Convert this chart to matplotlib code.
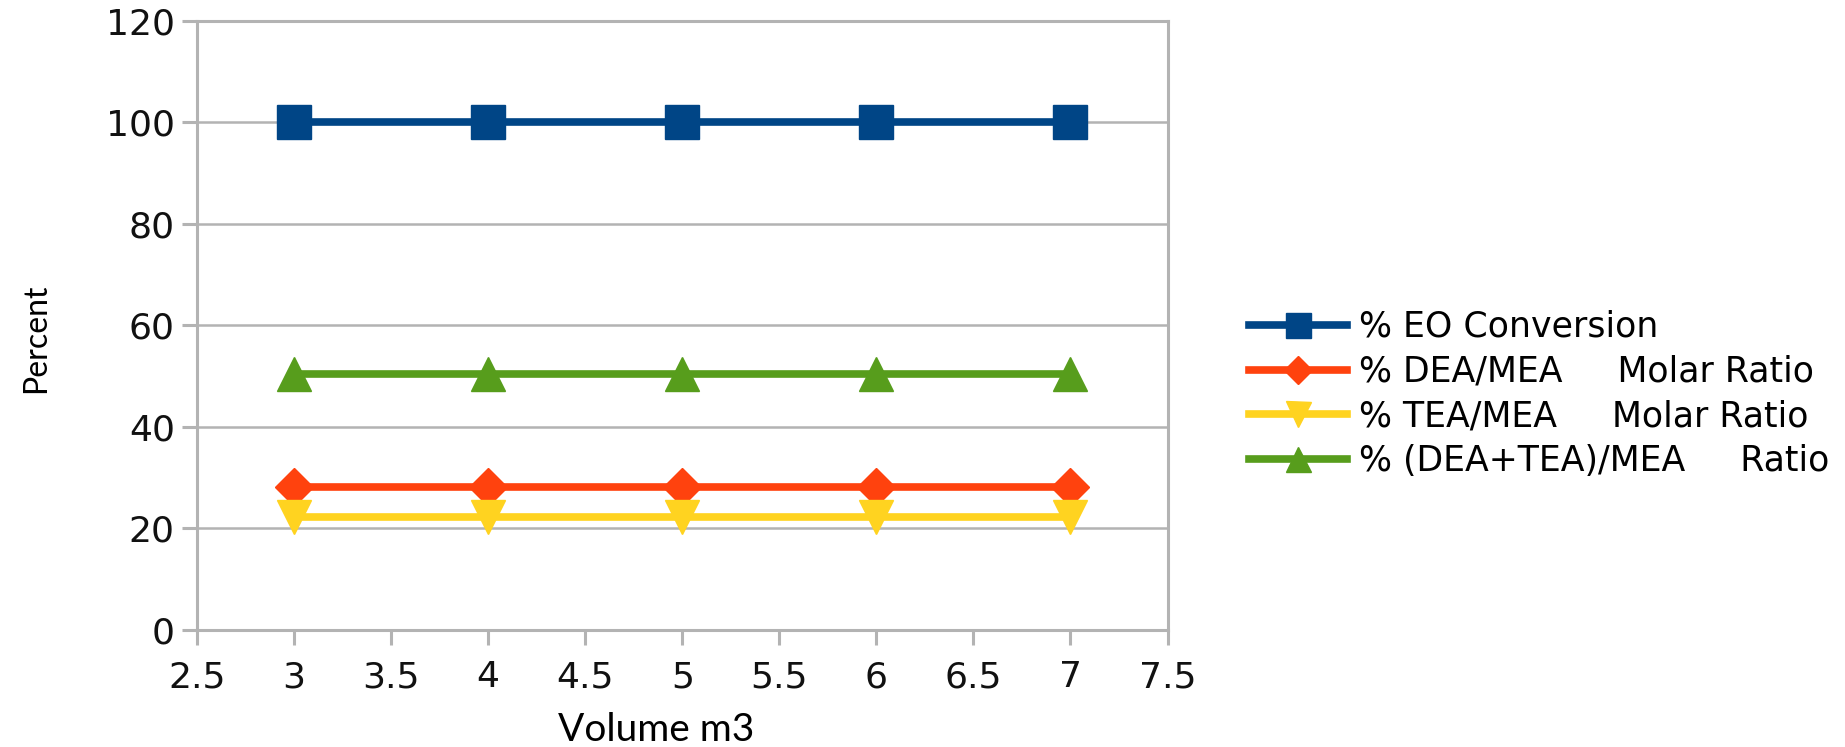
import matplotlib
matplotlib.use('Agg')
import matplotlib.pyplot as plt

# Reactor volume (m3) and resulting conversions / ratios
volume = [3, 4, 5, 6, 7]
eo_conversion = [100, 100, 100, 100, 100]
dea_mea_ratio = [28.2, 28.2, 28.2, 28.2, 28.2]
tea_mea_ratio = [22.2, 22.2, 22.2, 22.2, 22.2]
dea_tea_mea_ratio = [50.4, 50.4, 50.4, 50.4, 50.4]

series_labels = ['% EO Conversion',
                 '% DEA/MEA     Molar Ratio',
                 '% TEA/MEA     Molar Ratio',
                 '% (DEA+TEA)/MEA     Ratio']
x_ticks = [2.5, 3, 3.5, 4, 4.5, 5, 5.5, 6, 6.5, 7, 7.5]
y_ticks = [0, 20, 40, 60, 80, 100, 120]

fig = plt.figure(figsize=(18.45, 7.47), dpi=100)
ax = fig.add_axes([0.1068, 0.157, 0.526, 0.815])

grey = '#b3b3b3'
lw = 5.5
ms = 24

ax.plot(volume, eo_conversion, color='#004586', lw=lw, marker='s', ms=ms,
        label=series_labels[0])
ax.plot(volume, dea_mea_ratio, color='#ff420e', lw=lw, marker='D', ms=ms * 0.8,
        label=series_labels[1])
ax.plot(volume, tea_mea_ratio, color='#ffd320', lw=lw, marker='v', ms=ms,
        label=series_labels[2])
ax.plot(volume, dea_tea_mea_ratio, color='#579d1c', lw=lw, marker='^', ms=ms,
        label=series_labels[3])

ax.set_xlim(2.5, 7.5)
ax.set_ylim(0, 120)
ax.set_xticks(x_ticks)
ax.set_xticklabels([f'{t:g}' for t in x_ticks])
ax.set_yticks(y_ticks)

ax.grid(axis='y', color=grey, lw=1.8)
ax.set_axisbelow(True)
for side in ax.spines.values():
    side.set_color(grey)
    side.set_linewidth(2.2)
ax.tick_params(axis='both', colors=grey, width=2.2, length=11, labelsize=26,
               labelcolor='#111111')
ax.tick_params(axis='x', pad=11)
ax.tick_params(axis='y', pad=5)

ax.set_xlabel('Volume m3', fontsize=28, family='Lato')
ax.set_ylabel('Percent', fontsize=23, family='Lato')
ax.xaxis.set_label_coords(0.473, -0.165)
ax.yaxis.set_label_coords(-0.166, 0.479)
ax.xaxis.label.set_va('center')
ax.yaxis.label.set_va('center')

ax.legend(loc='center left', bbox_to_anchor=(1.052, 0.387), frameon=False,
          fontsize=25, handlelength=2.82, handletextpad=0.35, labelspacing=0.31,
          markerscale=0.75)

fig.savefig('out.png', dpi=100)
